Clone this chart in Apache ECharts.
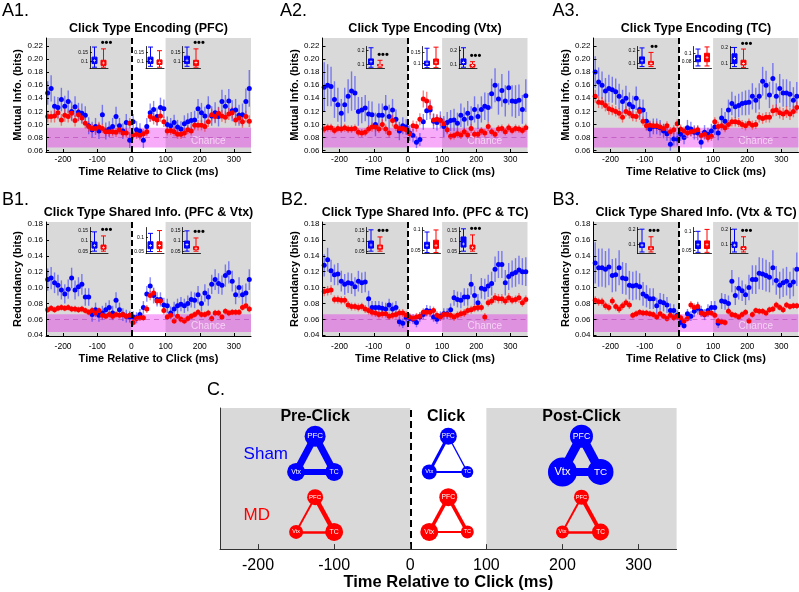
<!DOCTYPE html>
<html><head><meta charset="utf-8">
<script src="https://cdn.jsdelivr.net/npm/echarts@6/dist/echarts.min.js"></script>
<style>html,body{margin:0;padding:0;background:#fff}#c{width:799px;height:592px}</style>
</head><body><div id="c"></div><script>
// ---------------- DATA ----------------
const times = [-245,-235,-225,-215,-205,-195,-185,-175,-165,-155,-145,-135,-125,-115,-105,-95,-85,-75,-65,-55,-45,-35,-25,-15,-5,5,15,25,35,45,55,65,75,85,95,105,115,125,135,145,155,165,175,185,195,205,215,225,235,245,255,265,275,285,295,305,315,325,335,345];
const xTicks = [-200,-100,0,100,200,300];
const yTicksA = [0.06,0.08,0.10,0.12,0.14,0.16,0.18,0.20,0.22];
const yTicksB = [0.04,0.06,0.08,0.10,0.12,0.14,0.16,0.18];
const chanceA = [0.065,0.095,0.08];
const chanceB = [0.044,0.0665,0.055];

const a1Blue = [.148,.155,.128,.126,.138,.128,.135,.120,.127,.119,.117,.114,.098,.092,.097,.090,.115,.090,.093,.097,.112,.098,.090,.103,.076,
 .104,.092,.090,.076,.097,.118,.123,.112,.126,.124,
 .100,.098,.103,.096,.093,.101,.104,.106,.107,.124,.118,.113,.127,.113,.118,.112,.135,.128,.136,.121,.122,.114,.115,.135,.155];
const a1BlueErr = [.018,.020,.015,.016,.018,.016,.017,.015,.016,.014,.015,.014,.013,.012,.013,.012,.015,.013,.012,.013,.015,.012,.012,.013,.012,
 .012,.013,.012,.012,.013,.014,.013,.014,.015,.014,
 .012,.012,.012,.011,.012,.013,.013,.013,.014,.015,.015,.014,.016,.015,.016,.015,.018,.017,.018,.016,.017,.016,.017,.020,.028];
const a1Red = [.112,.112,.113,.118,.107,.114,.112,.117,.106,.115,.110,.102,.097,.094,.094,.096,.094,.089,.089,.089,.088,.092,.087,.087,.102,
 .084,.085,.083,.086,.089,.112,.109,.107,.113,.104,
 .090,.091,.089,.085,.085,.087,.092,.090,.099,.099,.099,.097,.104,.115,.112,.117,.113,.111,.116,.118,.107,.110,.104,.112,.105];
const a1RedErr = [.009,.009,.010,.010,.009,.010,.009,.010,.009,.010,.009,.008,.008,.007,.007,.008,.007,.007,.007,.007,.007,.007,.007,.007,.008,
 .007,.007,.007,.007,.007,.008,.009,.008,.009,.008,
 .007,.007,.007,.007,.007,.007,.007,.007,.008,.008,.008,.008,.008,.009,.009,.009,.009,.009,.009,.009,.009,.009,.009,.009,.009];

const a2Blue = [.157,.160,.158,.138,.130,.117,.130,.143,.151,.148,.120,.122,.125,.116,.115,.100,.114,.114,.125,.112,.122,.108,.090,.098,.096,
 .087,.083,.073,.077,.104,.121,.122,.105,.103,.107,
 .097,.103,.106,.107,.102,.114,.108,.117,.110,.123,.112,.123,.128,.126,.147,.160,.139,.152,.136,.156,.136,.135,.137,.123,.144];
const a2BlueErr = [.038,.032,.030,.028,.026,.022,.026,.026,.030,.026,.022,.020,.020,.020,.020,.018,.018,.018,.020,.018,.017,.015,.014,.013,.012,
 .012,.010,.009,.010,.012,.014,.014,.012,.012,.013,
 .016,.016,.016,.017,.016,.018,.018,.019,.018,.020,.019,.020,.021,.022,.023,.026,.024,.025,.024,.026,.024,.025,.024,.022,.025];
const a2Red = [.093,.095,.095,.091,.094,.093,.095,.093,.093,.094,.088,.087,.088,.093,.096,.096,.093,.100,.093,.087,.106,.097,.094,.094,.092,
 .086,.098,.097,.108,.139,.136,.126,.107,.108,.106,
 .101,.092,.082,.083,.086,.084,.089,.084,.094,.085,.085,.090,.087,.097,.089,.085,.093,.094,.089,.095,.091,.094,.093,.091,.095];
const a2RedErr = [.006,.006,.006,.006,.006,.006,.006,.006,.006,.006,.006,.006,.006,.006,.007,.007,.006,.008,.007,.007,.009,.007,.006,.006,.006,
 .007,.008,.008,.009,.013,.014,.012,.009,.008,.008,
 .008,.007,.006,.006,.006,.006,.006,.006,.007,.006,.006,.006,.006,.007,.006,.006,.006,.006,.006,.006,.006,.006,.006,.006,.006];

const a3Blue = [.180,.165,.160,.151,.155,.153,.150,.143,.135,.140,.131,.127,.140,.123,.122,.105,.093,.097,.097,.095,.090,.086,.070,.078,.078,
 .085,.080,.095,.093,.088,.087,.073,.088,.085,.090,
 .096,.087,.110,.105,.122,.132,.127,.129,.132,.133,.134,.143,.137,.143,.166,.160,.145,.170,.143,.155,.148,.148,.146,.137,.143];
const a3BlueErr = [.024,.022,.021,.020,.021,.020,.020,.019,.018,.019,.018,.017,.018,.016,.016,.014,.012,.012,.012,.012,.011,.011,.010,.010,.010,
 .010,.010,.012,.011,.011,.011,.010,.011,.010,.011,
 .012,.011,.015,.014,.016,.018,.017,.018,.018,.019,.019,.020,.019,.020,.022,.022,.020,.024,.020,.022,.021,.021,.020,.020,.022];
const a3Red = [.143,.134,.133,.129,.124,.122,.120,.117,.111,.120,.117,.113,.112,.120,.105,.098,.099,.098,.098,.096,.094,.098,.089,.092,.101,
 .093,.090,.087,.089,.090,.092,.083,.085,.080,.082,
 .104,.097,.098,.095,.100,.104,.104,.103,.100,.098,.102,.099,.100,.111,.109,.111,.111,.121,.122,.118,.116,.119,.116,.120,.126];
const a3RedErr = [.010,.009,.009,.009,.009,.008,.008,.008,.008,.008,.008,.008,.008,.008,.007,.007,.007,.007,.007,.007,.007,.007,.007,.007,.007,
 .007,.007,.007,.007,.007,.007,.007,.007,.007,.007,
 .007,.007,.007,.007,.007,.007,.007,.007,.007,.007,.007,.007,.007,.008,.008,.008,.008,.009,.009,.009,.009,.009,.009,.009,.009];

const b1Blue = [.110,.112,.106,.103,.097,.092,.098,.112,.097,.101,.104,.088,.088,.066,.072,.065,.068,.072,.075,.068,.084,.072,.066,.064,.063,
 .063,.062,.066,.075,.092,.102,.090,.085,.085,.078,
 .077,.068,.073,.077,.079,.077,.080,.085,.084,.091,.080,.093,.088,.104,.110,.105,.103,.115,.119,.108,.091,.100,.091,.093,.110];
const b1BlueErr = [.014,.014,.013,.013,.012,.012,.012,.013,.012,.012,.013,.011,.011,.009,.009,.008,.009,.009,.009,.009,.010,.009,.008,.008,.007,
 .007,.007,.007,.008,.010,.011,.010,.009,.009,.009,
 .009,.008,.009,.009,.009,.009,.010,.010,.010,.011,.010,.011,.011,.012,.013,.013,.012,.014,.014,.013,.012,.013,.012,.012,.013];
const b1Red = [.072,.074,.072,.074,.075,.074,.075,.073,.073,.072,.073,.071,.069,.071,.068,.071,.065,.064,.066,.064,.066,.065,.066,.064,.065,
 .056,.061,.062,.062,.073,.090,.093,.083,.083,.071,
 .063,.065,.058,.064,.060,.058,.061,.064,.066,.069,.066,.066,.068,.061,.068,.068,.063,.070,.068,.069,.069,.069,.075,.077,.073];
const b1RedErr = [.004,.004,.004,.004,.004,.004,.004,.004,.004,.004,.004,.004,.004,.004,.004,.004,.004,.004,.004,.004,.004,.004,.004,.004,.004,
 .004,.004,.004,.004,.005,.006,.006,.005,.005,.005,
 .004,.004,.004,.004,.004,.004,.004,.004,.004,.004,.004,.004,.004,.004,.004,.004,.004,.004,.004,.004,.004,.004,.004,.004,.004];

const b2Blue = [.128,.135,.121,.116,.117,.108,.104,.106,.105,.101,.108,.106,.107,.086,.075,.075,.075,.074,.073,.078,.073,.075,.057,.055,.062,
 .061,.060,.056,.063,.066,.071,.070,.063,.060,.064,
 .067,.067,.072,.087,.085,.084,.088,.088,.104,.090,.081,.099,.098,.102,.105,.123,.129,.129,.106,.114,.117,.119,.122,.120,.120];
const b2BlueErr = [.014,.015,.014,.013,.014,.013,.013,.013,.013,.012,.013,.013,.013,.010,.008,.008,.008,.008,.008,.008,.008,.008,.006,.006,.006,
 .006,.006,.006,.006,.006,.007,.007,.006,.006,.006,
 .007,.007,.008,.010,.010,.010,.011,.011,.013,.012,.011,.013,.013,.014,.015,.016,.017,.017,.016,.017,.017,.018,.018,.017,.018];
const b2Red = [.095,.096,.097,.085,.085,.084,.084,.078,.076,.076,.075,.076,.073,.071,.069,.068,.066,.067,.067,.064,.065,.066,.068,.068,.065,
 .063,.061,.063,.064,.069,.069,.069,.071,.065,.063,
 .066,.066,.065,.063,.065,.067,.068,.071,.072,.074,.075,.075,.063,.081,.083,.087,.086,.086,.083,.087,.084,.085,.087,.081,.085];
const b2RedErr = [.006,.006,.006,.005,.005,.005,.005,.005,.005,.005,.005,.005,.005,.005,.005,.005,.005,.005,.005,.005,.005,.005,.005,.005,.005,
 .005,.005,.005,.005,.005,.005,.005,.005,.005,.005,
 .005,.005,.005,.005,.005,.005,.005,.005,.005,.005,.005,.005,.005,.005,.005,.006,.006,.006,.005,.006,.005,.005,.006,.005,.005];

const b3Blue = [.131,.125,.125,.123,.126,.115,.116,.125,.112,.111,.103,.102,.103,.101,.092,.089,.086,.086,.077,.082,.081,.078,.071,.071,.065,
 .056,.052,.067,.064,.070,.074,.070,.066,.071,.075,
 .075,.055,.083,.082,.080,.108,.090,.099,.096,.091,.100,.110,.110,.118,.117,.115,.113,.125,.109,.103,.106,.108,.103,.107,.123];
const b3BlueErr = [.026,.024,.024,.023,.023,.021,.021,.022,.020,.020,.018,.018,.018,.017,.015,.014,.013,.013,.010,.011,.011,.010,.009,.008,.006,
 .005,.004,.006,.006,.007,.008,.007,.007,.008,.008,
 .008,.006,.010,.010,.010,.014,.012,.014,.013,.013,.016,.018,.018,.020,.020,.020,.019,.022,.018,.017,.018,.018,.017,.018,.021];
const b3Red = [.084,.082,.082,.077,.075,.083,.076,.073,.077,.081,.078,.065,.067,.069,.068,.068,.067,.066,.063,.067,.064,.061,.065,.062,.064,
 .062,.058,.061,.078,.075,.076,.068,.066,.068,.068,
 .065,.058,.057,.056,.070,.066,.065,.063,.066,.069,.058,.066,.071,.070,.070,.068,.072,.073,.078,.075,.072,.078,.076,.077,.077];
const b3RedErr = [.005,.005,.005,.005,.005,.005,.005,.005,.005,.005,.005,.004,.004,.004,.004,.004,.004,.004,.004,.004,.004,.004,.004,.004,.004,
 .004,.004,.004,.005,.005,.005,.004,.004,.004,.004,
 .004,.004,.004,.004,.004,.004,.004,.004,.004,.004,.004,.004,.004,.004,.004,.004,.004,.004,.004,.004,.004,.004,.004,.004,.004];

// inset box plots: [min, q1, median, q3, max] for pre, click, post
const a1InsetBlue = [[.07,.09,.105,.125,.18],[.075,.09,.105,.125,.18],[.075,.09,.108,.13,.18]];
const a1InsetRed  = [[.07,.08,.093,.108,.17],[.07,.085,.097,.11,.16],[.07,.08,.095,.108,.17]];
const a2InsetBlue = [[.08,.10,.12,.14,.22],[.08,.09,.10,.11,.17],[.08,.10,.115,.14,.22]];
const a2InsetRed  = [[.08,.09,.095,.10,.13],[.08,.095,.105,.12,.175],[.075,.085,.092,.10,.12]];
const a3InsetBlue = [[.075,.10,.12,.15,.22],[.07,.08,.088,.095,.11],[.08,.10,.13,.16,.20]];
const a3InsetRed  = [[.075,.09,.10,.115,.185],[.07,.08,.09,.10,.115],[.075,.09,.10,.12,.19]];
const b1InsetBlue = [[.05,.065,.078,.095,.145],[.05,.06,.072,.085,.115],[.05,.065,.082,.10,.15]];
const b1InsetRed  = [[.05,.06,.068,.08,.125],[.05,.06,.072,.085,.125],[.05,.058,.063,.072,.115]];
const b2InsetBlue = [[.05,.065,.08,.10,.155],[.045,.055,.062,.07,.095],[.05,.07,.085,.12,.16]];
const b2InsetRed  = [[.05,.06,.07,.08,.12],[.045,.055,.062,.075,.10],[.05,.06,.068,.08,.13]];
const b3InsetBlue = [[.05,.08,.095,.11,.20],[.045,.055,.065,.075,.10],[.05,.08,.095,.115,.20]];
const b3InsetRed  = [[.05,.065,.075,.085,.15],[.045,.055,.065,.075,.105],[.05,.065,.072,.085,.15]];
const a1InsetTicks = [[.1,.15],[.1,.15],[.1,.15]];
const a2InsetTicks = [[.1,.2],[.1,.15],[.1,.2]];
const a3InsetTicks = [[.1,.2],[.08,.1],[.1,.2]];
const b1InsetTicks = [[.05,.1,.15],[.05,.1],[.05,.1,.15]];
const b2InsetTicks = [[.05,.1,.15],[.05,.1],[.05,.1,.15]];
const b3InsetTicks = [[.1,.2],[.05,.1],[.1,.2]];
const a1Stars = ['•••','','•••'];
const a2Stars = ['•••','','•••'];
const a3Stars = ['••','','•••'];
const b1Stars = ['•••','','•••'];
const b2Stars = ['•••','','•••'];
const b3Stars = ['•••','','•••'];

// panel C network summary
const netPeriods = ['Pre-Click','Click','Post-Click'];
const nodeNames = ['PFC','Vtx','TC'];
const shamNodeSize = [[21,18,18],[17,15,12],[23,29,26]];
const shamEdgeWidth = [[7,7,6],[3,1.3,2],[9,9,8]];   // PFC-Vtx, PFC-TC, Vtx-TC
const mdNodeSize = [[16,14,18],[18,18,13],[15,13,17]];
const mdEdgeWidth = [[2,4.5,2.5],[3.5,3.5,2],[2,4,2.5]];

// ---------------- LAYOUT / STYLE ----------------
const FONT = '"Liberation Sans", Arial, Helvetica, sans-serif';
const BLUE = '#0000ff', RED = '#ff0000';
const BLUE_ERR = 'rgba(40,40,255,0.55)', RED_ERR = 'rgba(255,30,30,0.55)';
const GREY = '#d9d9d9';
const BAND = 'rgba(235,0,235,0.33)';
const colLeft = [46, 322.5, 593.5], PW = 205;
const rowTop = [38, 222], PH = 114;
const yRange = [[0.058,0.232],[0.039,0.1825]];
const insetDX = [44, 100, 136.5], insetW = 18;
const insetTop = [8.5, 5.5], insetH = [22, 26];
const insetRanges = [
  [[0.063,0.183],[0.063,0.183],[0.063,0.183]],
  [[0.071,0.229],[0.076,0.178],[0.071,0.229]],
  [[0.060,0.231],[0.064,0.116],[0.068,0.206]],
  [[0.0385,0.1665],[0.043,0.136],[0.0385,0.1665]],
  [[0.0385,0.1665],[0.0425,0.106],[0.0385,0.1665]],
  [[0.040,0.211],[0.042,0.110],[0.040,0.211]]
];
const panels = [
  {lab:'A1.', title:'Click Type Encoding (PFC)', yName:'Mutual Info. (bits)', b:a1Blue, be:a1BlueErr, r:a1Red, re:a1RedErr, ib:a1InsetBlue, ir:a1InsetRed, it:a1InsetTicks, st:a1Stars},
  {lab:'A2.', title:'Click Type Encoding (Vtx)', yName:'Mutual Info. (bits)', b:a2Blue, be:a2BlueErr, r:a2Red, re:a2RedErr, ib:a2InsetBlue, ir:a2InsetRed, it:a2InsetTicks, st:a2Stars},
  {lab:'A3.', title:'Click Type Encoding (TC)', yName:'Mutual Info. (bits)', b:a3Blue, be:a3BlueErr, r:a3Red, re:a3RedErr, ib:a3InsetBlue, ir:a3InsetRed, it:a3InsetTicks, st:a3Stars},
  {lab:'B1.', title:'Click Type Shared Info. (PFC & Vtx)', yName:'Redundancy (bits)', b:b1Blue, be:b1BlueErr, r:b1Red, re:b1RedErr, ib:b1InsetBlue, ir:b1InsetRed, it:b1InsetTicks, st:b1Stars},
  {lab:'B2.', title:'Click Type Shared Info. (PFC & TC)', yName:'Redundancy (bits)', b:b2Blue, be:b2BlueErr, r:b2Red, re:b2RedErr, ib:b2InsetBlue, ir:b2InsetRed, it:b2InsetTicks, st:b2Stars},
  {lab:'B3.', title:'Click Type Shared Info. (Vtx & TC)', yName:'Redundancy (bits)', b:b3Blue, be:b3BlueErr, r:b3Red, re:b3RedErr, ib:b3InsetBlue, ir:b3InsetRed, it:b3InsetTicks, st:b3Stars}
];
const labelPos = [[2,12],[280,12],[552.5,12],[2,201.5],[281,201.5],[552.5,201.5]];
const titleY = [29, 212.7];
const xLabMargin = [3, 6], xNameGap = [14, 17];

const grid=[], xAxis=[], yAxis=[], series=[], graphic=[];
function addGrid(g, xa, ya){ grid.push(g); const i=grid.length-1; xAxis.push(Object.assign({gridIndex:i}, xa)); yAxis.push(Object.assign({gridIndex:i}, ya)); return i; }
const blackLine = {show:true, onZero:false, lineStyle:{color:'#000', width:1}};
const plusPath = 'path://M4,0H6V4H10V6H6V10H4V6H0V4H4Z';
const OPAQUE = {opacity:1};

function errSeries(gi, vals, errs, color){
  return {type:'custom', xAxisIndex:gi, yAxisIndex:gi, z:3, silent:true, clip:true,
    data: times.map((t,i)=>[t, vals[i], errs[i]]), encode:{x:0, y:1},
    renderItem:(params, api)=>{ const x=api.value(0), v=api.value(1), e=api.value(2);
      const p1=api.coord([x,v-e]), p2=api.coord([x,v+e]);
      return {type:'line', shape:{x1:p1[0],y1:p1[1],x2:p2[0],y2:p2[1]}, style:{stroke:color, lineWidth:1.4}}; }};
}
function ptSeries(gi, vals, color){
  return {type:'scatter', xAxisIndex:gi, yAxisIndex:gi, z:4, silent:true, symbolSize:5,
    itemStyle:{color:color, opacity:1}, data: times.map((t,i)=>[t, vals[i]])};
}

panels.forEach((p, k) => {
  const col = k%3, row = Math.floor(k/3);
  const L = colLeft[col], T = rowTop[row], yr = yRange[row];
  const yt = row===0 ? yTicksA : yTicksB, ch = row===0 ? chanceA : chanceB;
  const gi = addGrid({left:L, top:T, width:PW, height:PH},
    {type:'value', min:-250, max:350, z:7, axisLine:blackLine,
     axisTick:{show:true, inside:true, length:3, customValues:xTicks, lineStyle:{color:'#000'}},
     axisLabel:{customValues:xTicks, fontSize:8.5, color:'#000', margin:xLabMargin[row], fontFamily:FONT},
     splitLine:{show:false}, name:'Time Relative to Click (ms)', nameLocation:'middle', nameGap:xNameGap[row],
     nameTextStyle:{fontSize:11, fontWeight:'bold', color:'#000', fontFamily:FONT}},
    {type:'value', min:yr[0], max:yr[1], z:7, axisLine:blackLine,
     axisTick:{show:true, inside:true, length:3, customValues:yt, lineStyle:{color:'#000'}},
     axisLabel:{customValues:yt, formatter:v=>v.toFixed(2), fontSize:8, color:'#000', margin:3, fontFamily:FONT},
     splitLine:{show:false}, name:p.yName, nameLocation:'middle', nameRotate:90, nameGap:22,
     nameTextStyle:{fontSize:11, fontWeight:'bold', color:'#000', fontFamily:FONT}});
  // background regions
  series.push({type:'scatter', xAxisIndex:gi, yAxisIndex:gi, data:[], z:1, silent:true,
    markArea:{silent:true, data:[
      [{xAxis:-250, yAxis:yr[0], itemStyle:{color:GREY}}, {xAxis:0, yAxis:yr[1]}],
      [{xAxis:100, yAxis:yr[0], itemStyle:{color:GREY}}, {xAxis:350, yAxis:yr[1]}]]}});
  // chance band + mean
  series.push({type:'scatter', xAxisIndex:gi, yAxisIndex:gi, z:2, silent:true, symbolSize:0, clip:false,
    itemStyle:OPAQUE, data:[[225, ch[0]]],
    label:{show:true, position:'top', distance:1, formatter:'Chance', color:'#f6d2f6', fontSize:10, fontFamily:FONT},
    markArea:{silent:true, data:[[{xAxis:-250, yAxis:ch[0], itemStyle:{color:BAND}}, {xAxis:350, yAxis:ch[1]}]]},
    markLine:{silent:true, symbol:'none', label:{show:false}, lineStyle:{type:[5,4], color:'rgba(180,60,180,0.55)', width:1},
      data:[{yAxis:ch[2]}]}});
  series.push(errSeries(gi, p.b, p.be, BLUE_ERR));
  series.push(ptSeries(gi, p.b, BLUE));
  series.push(errSeries(gi, p.r, p.re, RED_ERR));
  series.push(ptSeries(gi, p.r, RED));
  // zero line
  series.push({type:'scatter', xAxisIndex:gi, yAxisIndex:gi, data:[], z:6, silent:true,
    markLine:{silent:true, symbol:'none', label:{show:false}, lineStyle:{type:[6,3], color:'#000', width:2}, data:[{xAxis:0}]}});
  // insets
  for (let q=0;q<3;q++){
    const rg = insetRanges[k][q];
    const g2 = addGrid({left:L+insetDX[q], top:T+insetTop[row], width:insetW, height:insetH[row]},
      {type:'category', z:10, data:['Sham','MD'], axisLine:{show:true, lineStyle:{color:'#000', width:0.8}}, axisTick:{show:false}, axisLabel:{show:false}},
      {type:'value', z:10, min:rg[0], max:rg[1], axisLine:{show:true, onZero:false, lineStyle:{color:'#000', width:0.8}},
       axisTick:{show:true, inside:true, length:2, customValues:p.it[q], lineStyle:{color:'#000', width:0.8}},
       axisLabel:{customValues:p.it[q], formatter:v=>String(+v.toFixed(2)), fontSize:5, color:'#000', margin:2, fontFamily:FONT},
       splitLine:{show:false}});
    series.push({type:'boxplot', xAxisIndex:g2, yAxisIndex:g2, z:8, silent:true, boxWidth:[5,5],
      data:[{value:p.ib[q], itemStyle:{color:BLUE, borderColor:BLUE, borderWidth:1}},
            {value:p.ir[q], itemStyle:{color:RED, borderColor:RED, borderWidth:1}}]});
    series.push({type:'scatter', xAxisIndex:g2, yAxisIndex:g2, z:9, silent:true, symbol:plusPath, symbolSize:3,
      itemStyle:{color:'#fff', opacity:1}, data:[['Sham', p.ib[q][2]], ['MD', p.ir[q][2]]]});
    if (p.st[q]) series.push({type:'scatter', xAxisIndex:g2, yAxisIndex:g2, z:9, silent:true, symbolSize:0, clip:false,
      itemStyle:OPAQUE, data:[['MD', p.ir[q][4]]],
      label:{show:true, position:'top', distance:0, offset:[3,0], formatter:p.st[q], color:'#000', fontSize:11, fontWeight:'bold', fontFamily:FONT}});
  }
  graphic.push({type:'text', left:labelPos[k][0], top:labelPos[k][1]-10, style:{text:p.lab, fontSize:18, fill:'#000', fontFamily:FONT}});
  graphic.push({type:'text', x:L+PW/2, y:titleY[row], style:{text:p.title, fontSize:12.5, fontWeight:'bold', fill:'#000', fontFamily:FONT, align:'center', verticalAlign:'middle'}});
});

// ---------------- PANEL C ----------------
const netCenterX = [-125, 50, 225];
const nodeDX = [0, -25, 25];
const groupY = {Sham:[0.80,0.547,0.547], MD:[0.368,0.122,0.122]};
const edgePairs = [[0,1],[0,2],[1,2]];
const gC = addGrid({left:220, top:408, width:456.6, height:142},
  {type:'value', min:-250, max:350, z:7, axisLine:{show:true, onZero:false, lineStyle:{color:'#333', width:1}},
   axisTick:{show:true, inside:true, length:5, customValues:xTicks, lineStyle:{color:'#333'}},
   axisLabel:{customValues:xTicks, fontSize:16, color:'#000', margin:8, fontFamily:FONT},
   splitLine:{show:false}, name:'Time Relative to Click (ms)', nameLocation:'middle', nameGap:24,
   nameTextStyle:{fontSize:16.5, fontWeight:'bold', color:'#000', fontFamily:FONT}},
  {type:'value', min:0, max:1, z:7, axisLine:{show:true, onZero:false, lineStyle:{color:'#333', width:1}}, axisTick:{show:false}, axisLabel:{show:false}, splitLine:{show:false}});
series.push({type:'scatter', xAxisIndex:gC, yAxisIndex:gC, data:[], z:1, silent:true,
  markArea:{silent:true, data:[
    [{xAxis:-250, yAxis:0, itemStyle:{color:GREY}}, {xAxis:0, yAxis:1}],
    [{xAxis:100, yAxis:0, itemStyle:{color:GREY}}, {xAxis:350, yAxis:1}]]},
  markLine:{silent:true, symbol:'none', label:{show:false}, lineStyle:{type:[7,4], color:'#000', width:2}, data:[{xAxis:0}]}});
const edges=[], nodes=[];
[['Sham', shamNodeSize, shamEdgeWidth, BLUE], ['MD', mdNodeSize, mdEdgeWidth, RED]].forEach(([g, ns, ew, col]) => {
  netPeriods.forEach((per, pi) => {
    const pos = nodeNames.map((n, ni) => [netCenterX[pi] + nodeDX[ni], groupY[g][ni]]);
    edgePairs.forEach((pr, ei) => edges.push({coords:[pos[pr[0]], pos[pr[1]]], lineStyle:{width:ew[pi][ei], color:col, opacity:1}}));
    nodeNames.forEach((n, ni) => nodes.push({value:pos[ni], symbolSize:ns[pi][ni], itemStyle:{color:col, opacity:1},
      label:{show:true, position:'inside', formatter:n, color:'#fff', fontSize:Math.max(5.5, ns[pi][ni]*0.38), fontFamily:FONT}}));
  });
});
series.push({type:'lines', coordinateSystem:'cartesian2d', xAxisIndex:gC, yAxisIndex:gC, z:3, silent:true, polyline:false, data:edges});
series.push({type:'scatter', xAxisIndex:gC, yAxisIndex:gC, z:4, silent:true, itemStyle:OPAQUE, data:nodes});
const periodX = [-125, 47, 225];
series.push({type:'scatter', xAxisIndex:gC, yAxisIndex:gC, z:5, silent:true, symbolSize:0, itemStyle:OPAQUE,
  data: netPeriods.map((per, pi) => ({value:[periodX[pi], 0.94], label:{formatter:per}})),
  label:{show:true, position:'inside', fontSize:16, fontWeight:'bold', color:'#000', fontFamily:FONT}});
series.push({type:'scatter', xAxisIndex:gC, yAxisIndex:gC, z:5, silent:true, symbolSize:0, itemStyle:OPAQUE,
  data:[{value:[-219, 0.669], label:{formatter:'Sham', color:BLUE}}, {value:[-219, 0.242], label:{formatter:'MD', color:RED}}],
  label:{show:true, position:'right', distance:0, fontSize:17, fontFamily:FONT}});
graphic.push({type:'text', left:207, top:381, style:{text:'C.', fontSize:18, fill:'#000', fontFamily:FONT}});

const chart = echarts.init(document.getElementById('c'), null, {renderer:'canvas'});
chart.setOption({animation:false, backgroundColor:'#fff', textStyle:{fontFamily:FONT}, grid, xAxis, yAxis, series, graphic});
</script></body></html>
